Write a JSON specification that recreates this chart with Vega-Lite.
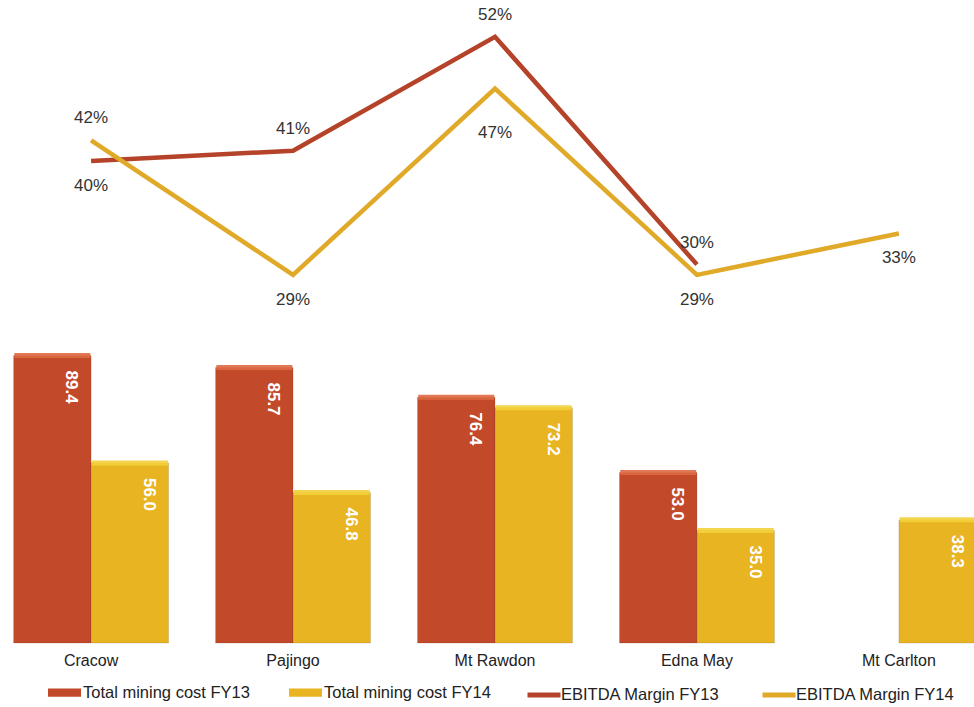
{
  "$schema": "https://vega.github.io/schema/vega-lite/v6.json",
  "width": 974,
  "height": 643,
  "autosize": {"type": "none"},
  "padding": {"left": 0, "top": 0, "right": 0, "bottom": 64},
  "background": "white",
  "config": {"view": {"stroke": null}, "font": "Liberation Sans"},
  "data": {
    "values": [
      {"mine": "Cracow", "series": "FY13", "costSeries": "Total mining cost FY13", "marginSeries": "EBITDA Margin FY13", "cost": 89.4, "margin": 0.40},
      {"mine": "Cracow", "series": "FY14", "costSeries": "Total mining cost FY14", "marginSeries": "EBITDA Margin FY14", "cost": 56.0, "margin": 0.42},
      {"mine": "Pajingo", "series": "FY13", "costSeries": "Total mining cost FY13", "marginSeries": "EBITDA Margin FY13", "cost": 85.7, "margin": 0.41},
      {"mine": "Pajingo", "series": "FY14", "costSeries": "Total mining cost FY14", "marginSeries": "EBITDA Margin FY14", "cost": 46.8, "margin": 0.29},
      {"mine": "Mt Rawdon", "series": "FY13", "costSeries": "Total mining cost FY13", "marginSeries": "EBITDA Margin FY13", "cost": 76.4, "margin": 0.52},
      {"mine": "Mt Rawdon", "series": "FY14", "costSeries": "Total mining cost FY14", "marginSeries": "EBITDA Margin FY14", "cost": 73.2, "margin": 0.47},
      {"mine": "Edna May", "series": "FY13", "costSeries": "Total mining cost FY13", "marginSeries": "EBITDA Margin FY13", "cost": 53.0, "margin": 0.30},
      {"mine": "Edna May", "series": "FY14", "costSeries": "Total mining cost FY14", "marginSeries": "EBITDA Margin FY14", "cost": 35.0, "margin": 0.29},
      {"mine": "Mt Carlton", "series": "FY13", "costSeries": "Total mining cost FY13", "marginSeries": "EBITDA Margin FY13", "cost": null, "margin": null},
      {"mine": "Mt Carlton", "series": "FY14", "costSeries": "Total mining cost FY14", "marginSeries": "EBITDA Margin FY14", "cost": 38.3, "margin": 0.33}
    ]
  },
  "encoding": {
    "x": {
      "field": "mine",
      "type": "nominal",
      "sort": ["Cracow", "Pajingo", "Mt Rawdon", "Edna May", "Mt Carlton"],
      "scale": {"range": [-10, 1000], "paddingInner": 0.233, "paddingOuter": 0.117},
      "axis": {
        "title": null,
        "domain": false,
        "ticks": false,
        "labelAngle": 0,
        "labelFontSize": 16,
        "labelColor": "#222222",
        "labelPadding": 9,
        "labelFont": "Liberation Sans"
      }
    }
  },
  "layer": [
    {
      "transform": [{"filter": "datum.cost != null"}],
      "mark": {"type": "bar", "stroke": "#000000", "strokeOpacity": 0.12, "strokeWidth": 1},
      "encoding": {
        "xOffset": {"field": "series", "type": "nominal", "scale": {"paddingInner": 0, "paddingOuter": 0}},
        "y": {"field": "cost", "type": "quantitative", "scale": {"domain": [0, 200]}, "axis": null},
        "fill": {
          "field": "costSeries",
          "type": "nominal",
          "scale": {"domain": ["Total mining cost FY13", "Total mining cost FY14"], "range": ["#C24A2A", "#E8B422"]},
          "legend": {
            "title": null,
            "orient": "none",
            "legendX": 48,
            "legendY": 676,
            "direction": "horizontal",
            "symbolType": "M-1,-0.25H1V0.25H-1Z",
            "symbolSize": 1089,
            "symbolStrokeWidth": 0,
            "labelOffset": 2,
            "columnPadding": 39,
            "labelLimit": 400,
            "labelFontSize": 16.5,
            "labelColor": "#222222",
            "labelFont": "Liberation Sans"
          }
        }
      }
    },
    {
      "transform": [{"filter": "datum.cost != null"}],
      "mark": {"type": "tick", "thickness": 5, "size": 76, "opacity": 0.9},
      "encoding": {
        "xOffset": {"field": "series", "type": "nominal"},
        "y": {"field": "cost", "type": "quantitative", "scale": {"domain": [0, 200]}, "axis": null},
        "color": {
          "field": "series",
          "type": "nominal",
          "scale": {"domain": ["FY13", "FY14"], "range": ["#DE6A44", "#F3D03C"]},
          "legend": null
        }
      }
    },
    {
      "transform": [{"filter": "datum.cost != null"}],
      "mark": {
        "type": "text",
        "angle": 90,
        "align": "left",
        "baseline": "middle",
        "dx": 15,
        "dy": -19,
        "fontSize": 17,
        "fontWeight": "bold",
        "color": "white",
        "font": "Liberation Sans"
      },
      "encoding": {
        "xOffset": {"field": "series", "type": "nominal"},
        "y": {"field": "cost", "type": "quantitative", "scale": {"domain": [0, 200]}, "axis": null},
        "text": {"field": "cost", "type": "quantitative", "format": ".1f"}
      }
    },
    {
      "transform": [{"filter": "datum.margin != null"}],
      "mark": {"type": "line", "strokeWidth": 4.5, "strokeJoin": "miter"},
      "encoding": {
        "y": {"field": "margin", "type": "quantitative", "scale": {"domain": [-0.0657, 0.5556]}, "axis": null},
        "stroke": {
          "field": "marginSeries",
          "type": "nominal",
          "scale": {"domain": ["EBITDA Margin FY13", "EBITDA Margin FY14"], "range": ["#B5432A", "#E0A928"]},
          "legend": {
            "title": null,
            "orient": "none",
            "legendX": 525,
            "legendY": 676,
            "direction": "horizontal",
            "symbolType": "stroke",
            "symbolSize": 1089,
            "symbolStrokeWidth": 5,
            "labelOffset": -2,
            "columnPadding": 32,
            "labelLimit": 400,
            "labelFontSize": 16.5,
            "labelColor": "#222222",
            "labelFont": "Liberation Sans"
          }
        }
      }
    },
    {
      "transform": [
        {"filter": "datum.margin != null"},
        {"filter": "(datum.series == 'FY13' && datum.mine != 'Cracow') || (datum.series == 'FY14' && datum.mine == 'Cracow')"}
      ],
      "mark": {"type": "text", "dy": -22, "baseline": "middle", "fontSize": 17, "color": "#333333", "font": "Liberation Sans"},
      "encoding": {
        "y": {"field": "margin", "type": "quantitative", "scale": {"domain": [-0.0657, 0.5556]}, "axis": null},
        "text": {"field": "margin", "type": "quantitative", "format": ".0%"}
      }
    },
    {
      "transform": [
        {"filter": "datum.margin != null"},
        {"filter": "!((datum.series == 'FY13' && datum.mine != 'Cracow') || (datum.series == 'FY14' && datum.mine == 'Cracow')) && !(datum.series == 'FY14' && datum.mine == 'Mt Rawdon')"}
      ],
      "mark": {"type": "text", "dy": 25, "baseline": "middle", "fontSize": 17, "color": "#333333", "font": "Liberation Sans"},
      "encoding": {
        "y": {"field": "margin", "type": "quantitative", "scale": {"domain": [-0.0657, 0.5556]}, "axis": null},
        "text": {"field": "margin", "type": "quantitative", "format": ".0%"}
      }
    },
    {
      "transform": [
        {"filter": "datum.series == 'FY14' && datum.mine == 'Mt Rawdon'"}
      ],
      "mark": {"type": "text", "dy": 44, "baseline": "middle", "fontSize": 17, "color": "#333333", "font": "Liberation Sans"},
      "encoding": {
        "y": {"field": "margin", "type": "quantitative", "scale": {"domain": [-0.0657, 0.5556]}, "axis": null},
        "text": {"field": "margin", "type": "quantitative", "format": ".0%"}
      }
    }
  ],
  "resolve": {"scale": {"y": "independent", "color": "independent"}}
}
